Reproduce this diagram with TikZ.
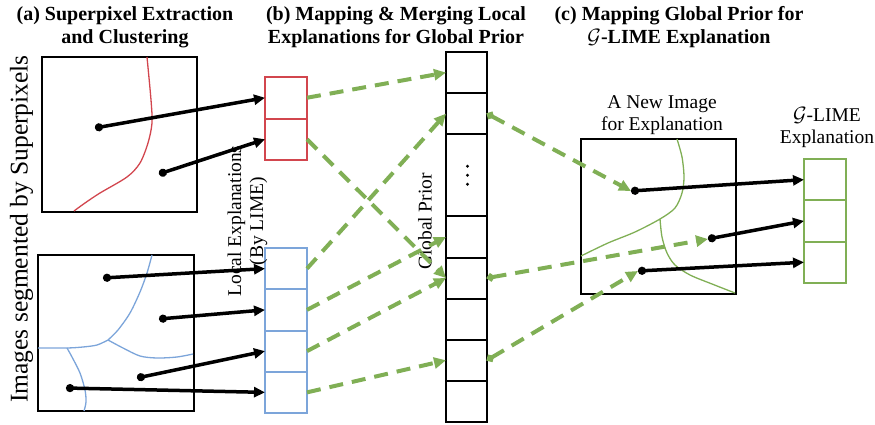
\documentclass[tikz,border=0pt]{standalone}
\usepackage{fontspec}
\setmainfont{Liberation Serif}
\usetikzlibrary{arrows.meta,calc,matrix,positioning}

\definecolor{lred}{HTML}{D2464E}
\definecolor{lblue}{HTML}{7CA5DA}
\definecolor{lgreen}{HTML}{80AF55}

\begin{document}
\begin{tikzpicture}[x=1pt, y=-1pt,
  cell/.style={draw, line width=2pt, minimum width=42pt, minimum height=41.25pt, inner sep=0pt, outer sep=0pt},
  stack/.style={matrix of nodes, nodes in empty cells, row sep=-2pt, inner sep=0pt, outer sep=0pt, anchor=north west},
  frame/.style={draw, line width=2pt, inner sep=0pt, outer sep=0pt, anchor=north west},
  seg/.style={line width=1.3pt},
  title/.style={font=\bfseries\fontsize{20}{23}\selectfont, align=center, anchor=base, inner sep=0pt},
  label/.style={font=\fontsize{19.5}{22}\selectfont, align=center, inner sep=0pt},
  map/.style={black, line width=3.5pt, {Circle[length=8pt]}-{Triangle[length=11pt,width=10pt]}},
  merge/.style={lgreen, line width=4pt, dash pattern=on 14pt off 9pt, -{Triangle[length=12pt,width=11pt]}},
  prior/.style={merge, {Circle[length=7.5pt]}-{Triangle[length=12pt,width=11pt]}}]

  \useasboundingbox (0,0) rectangle (875,425);

  % images
  \node (imga) [frame, minimum size=155pt] at (42,57) {};
  \node (imgb) [frame, minimum size=156pt] at (38,255) {};
  \node (imgc) [frame, minimum size=155pt] at (581,139) {};

  \draw [seg, lred] plot [smooth] coordinates {(147,57) (151,100) (152,123) (148,143) (140,163) (127,177) (100,193) (85,203) (74,211)};

  \draw [seg, lblue] plot [smooth] coordinates {(152,255) (147,273) (140,292) (130,313) (118,330) (108,340)};
  \draw [seg, lblue] plot [smooth] coordinates {(108,340) (97,345) (83,347) (67,348) (38,348)};
  \draw [seg, lblue] plot [smooth] coordinates {(108,340) (123,348) (140,356) (157,358) (177,357) (193,354)};
  \draw [seg, lblue] plot [smooth] coordinates {(67,348) (72,357) (80,373) (85,390) (86,402) (84,411)};

  \draw [seg, lgreen] plot [smooth] coordinates {(677,139) (682,157) (684,177) (682,193) (675,208) (660,219) (635,232) (608,243) (581,256)};
  \draw [seg, lgreen] plot [smooth] coordinates {(660,219) (662,237) (667,253) (675,265) (690,275) (712,284) (735,293)};

  \coordinate (a1) at (95,128);
  \coordinate (a2) at (159,174);
  \coordinate (b1) at (103,278);
  \coordinate (b2) at (159,319);
  \coordinate (b3) at (137,378);
  \coordinate (b4) at (66,388);
  \coordinate (c1) at (631,191);
  \coordinate (c2) at (708,239);
  \coordinate (c3) at (638,271);

  % explanation columns
  \matrix (red) [stack, nodes={cell, draw=lred, minimum height=41.5pt}] at (264,76) { \\ \\ };
  \matrix (blue) [stack, nodes={cell, draw=lblue}] at (264,247) { \\ \\ \\ \\ };
  \matrix (gp) [stack, nodes={cell, minimum width=41pt, minimum height=41.1pt}] at (445,51)
  { \\ \\ |[minimum height=82.2pt]| \\ \\ \\ \\ \\ \\ };
  \matrix (gl) [stack, nodes={cell, draw=lgreen, minimum height=41.3pt}] at (803,158) { \\ \\ \\ };

  \foreach \d in {-9,0,9}
    \fill ($(gp-3-1.center)+(1,\d)$) circle (1.6pt);

  % labels
  \node (ta) [title] at (125,44) {(a) Superpixel Extraction\\and Clustering};
  \node (tb) [title] at (396,44) {(b) Mapping \& Merging Local\\Explanations for Global Prior};
  \node (tc) [title] at (679,44) {(c) Mapping Global Prior for\\$\mathcal{G}$-LIME Explanation};

  \node (seglab) [label, font=\fontsize{25.5}{28}\selectfont, rotate=90] at (21.5,229) {Images segmented by Superpixels};
  \node (loclab) [label, rotate=90] at (247.5,221) {Local Explanations\\(By LIME)};
  \node (gplab) [label, rotate=90] at (425,221.5) {Global Prior};
  \node (newlab) [label, anchor=base] at (662,131) {A New Image\\for Explanation};
  \node (gllab) [label, anchor=base] at (827,143) {$\mathcal{G}$-LIME\\Explanation};

  % mapping and merging
  \path [merge] (red-1-1.east) edge (gp-1-1.west)
    (red-2-1.east) edge (gp-5-1.west)
    (blue-1-1.east) edge (gp-2-1.west)
    (blue-2-1.east) edge (gp-4-1.west)
    (blue-3-1.east) edge (gp-5-1.west)
    (blue-4-1.east) edge (gp-7-1.west);

  \path [prior] (gp-2-1.east) edge (c1)
    (gp-5-1.east) edge (c2)
    (gp-7-1.east) edge (c3);

  \path [map] (a1) edge (red-1-1.west)
    (a2) edge (red-2-1.west);

  \path [map] (b1) edge (blue-1-1.west)
    (b2) edge (blue-2-1.west)
    (b3) edge (blue-3-1.west)
    (b4) edge (blue-4-1.west);

  \path [map] (c1) edge (gl-1-1.west)
    (c2) edge (gl-2-1.west)
    (c3) edge (gl-3-1.west);

\end{tikzpicture}
\end{document}
